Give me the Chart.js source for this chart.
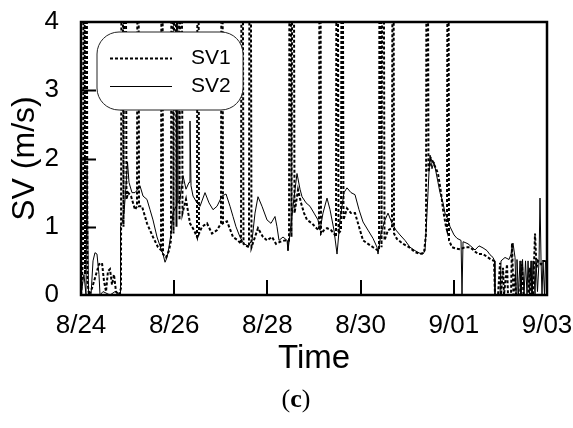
<!DOCTYPE html>
<html>
<head>
<meta charset="utf-8">
<script src="https://cdn.jsdelivr.net/npm/chart.js@4.4.1/dist/chart.umd.min.js"></script>
<style>
  html, body { margin: 0; padding: 0; background: #ffffff; }
  #wrap { width: 573px; height: 428px; }
</style>
</head>
<body>
<div id="wrap"><canvas id="c" width="573" height="428"></canvas></div>
<script>
// ---- data (time in days since 8/24 00:00, speed in m/s; values > 4 are off-scale spikes) ----
const tickLabels = ['8/24', '8/26', '8/28', '8/30', '9/01', '9/03'];
const tickDays = [0, 2, 4, 6, 8, 10];

const sv1Time = [0,0.043,0.064,0.086,0.107,0.139,0.172,0.236,0.322,0.386,0.451,0.494,0.537,0.579,0.622,0.665,0.708,0.751,0.815,0.858,
  0.880,0.912,0.944,0.976,1.009,1.073,1.159,1.202,1.223,1.245,1.309,1.416,1.545,1.652,1.717,1.738,1.760,1.824,1.888,1.931,
  1.953,1.985,2.017,2.049,2.082,2.114,2.146,2.178,2.253,2.339,2.425,2.489,2.511,2.532,2.597,2.704,2.811,2.919,3.004,3.026,
  3.047,3.133,3.262,3.369,3.434,3.455,3.487,3.541,3.605,3.627,3.659,3.734,3.798,3.906,3.992,4.099,4.185,4.271,4.378,4.464,
  4.485,4.517,4.550,4.582,4.657,4.721,4.786,4.850,4.957,5.065,5.107,5.129,5.150,5.215,5.279,5.365,5.429,5.472,5.494,5.526,
  5.580,5.601,5.633,5.708,5.794,5.880,5.966,6.052,6.159,6.266,6.374,6.395,6.417,6.449,6.481,6.513,6.588,6.674,6.696,6.717,
  6.781,6.910,7.039,7.168,7.275,7.361,7.404,7.425,7.457,7.511,7.554,7.618,7.661,7.726,7.769,7.833,7.854,7.876,7.897,7.962,
  8.048,8.133,8.241,8.348,8.434,8.520,8.627,8.713,8.799,8.863,8.884,8.949,8.992,9.013,9.056,9.078,9.142,9.163,9.228,9.249,
  9.281,9.314,9.335,9.421,9.464,9.496,9.593,9.636,9.657,9.700,9.743,9.775,9.807,9.872,9.915,9.957,10.0];
const sv1Value = [0,0.5,10,0.3,10,0.2,0,0.1,0.3,0.45,0.47,0.2,0.05,0.35,0.38,0.15,0.3,0.05,0,0.1,
  10,1.0,10,1.4,1.5,1.45,1.25,1.3,10,1.3,1.3,1.05,0.85,0.7,0.66,10,0.6,0.55,0.65,0.8,
  10,0.9,10,1.0,10,1.1,10,1.2,1.4,1.05,0.95,0.85,10,0.9,1.0,1.05,0.9,0.95,1.05,10,
  1.05,1.08,0.85,0.8,0.75,10,0.75,0.72,0.7,10,0.7,0.85,0.98,0.85,0.8,0.85,0.75,0.78,0.8,0.8,
  10,0.85,10,1.2,1.54,1.35,1.2,1.1,1.05,0.97,0.95,10,0.9,0.95,0.98,0.95,0.9,0.85,10,0.9,
  0.95,10,1.1,1.27,1.2,1.2,1.0,0.8,0.75,0.7,0.65,0.66,10,0.7,10,0.8,0.95,0.98,10,0.9,
  0.82,0.75,0.7,0.63,0.6,0.62,0.9,10,1.8,2.0,1.95,1.85,1.78,1.5,1.25,1.0,0.95,10,0.8,0.7,
  0.68,0.67,0.7,0.7,0.65,0.6,0.6,0.56,0.52,0.5,0,0,0.47,0,0.4,0,0.45,0,0,0.76,
  0,0.3,0,0,0.45,0,0,0.4,0,0,0.9,0.4,0.5,0.45,0.5,0.5,0.5];

const sv2Time = [0,0.064,0.107,0.129,0.161,0.215,0.258,0.300,0.343,0.386,0.408,0.472,0.622,0.730,0.837,0.848,0.880,0.923,0.966,0.998,
  1.030,1.094,1.159,1.223,1.266,1.331,1.416,1.481,1.545,1.631,1.695,1.760,1.803,1.846,1.888,1.931,1.974,2.039,2.060,2.082,
  2.125,2.189,2.253,2.318,2.339,2.361,2.404,2.489,2.554,2.661,2.747,2.833,2.919,3.026,3.112,3.198,3.262,3.326,3.412,3.498,
  3.584,3.670,3.734,3.798,3.884,3.992,4.077,4.163,4.206,4.249,4.335,4.421,4.442,4.485,4.550,4.635,4.700,4.743,4.829,4.914,
  5.000,5.086,5.129,5.193,5.279,5.344,5.429,5.494,5.558,5.644,5.708,5.794,5.880,5.966,6.052,6.159,6.266,6.352,6.374,6.438,
  6.524,6.588,6.674,6.760,6.846,6.953,7.060,7.168,7.275,7.339,7.382,7.425,7.468,7.490,7.532,7.575,7.618,7.661,7.704,7.769,
  7.811,7.876,7.919,8.005,8.069,8.155,8.176,8.198,8.241,8.305,8.391,8.455,8.541,8.627,8.713,8.777,8.842,8.874,8.884,8.992,
  9.013,9.099,9.185,9.228,9.270,9.314,9.335,9.356,9.388,9.421,9.442,9.475,9.507,9.539,9.571,9.593,9.625,9.657,9.678,9.711,
  9.743,9.764,9.796,9.829,9.850,9.872,9.893,9.915,9.947,9.968,10.0];
const sv2Value = [0,0.3,0,1.9,0,0,0.5,0.62,0.6,0.3,0,0.05,0,0.05,0,1.0,1.05,1.2,1.6,1.95,
  1.65,1.5,1.5,1.55,1.6,1.45,1.4,1.25,1.1,0.85,0.72,0.6,0.48,0.55,0.7,0.9,1.2,1.3,10,1.35,
  1.4,1.75,1.55,1.65,2.55,1.6,1.45,1.35,1.3,1.5,1.35,1.25,1.3,1.45,1.48,1.3,1.15,1.0,0.85,0.75,
  0.72,0.8,1.2,1.44,1.3,1.1,1.05,1.15,1.0,0.8,0.85,0.8,0.65,0.9,1.3,1.78,1.55,1.44,1.35,1.3,
  1.2,1.1,0.95,1.2,1.42,1.25,0.95,0.6,1.1,1.5,1.57,1.5,1.47,1.25,1.07,0.95,0.83,0.7,0.6,0.9,
  1.1,1.2,1.05,0.95,0.88,0.8,0.7,0.65,0.61,0.6,0.65,1.2,1.8,2.05,1.85,1.95,1.8,1.65,1.5,1.35,
  1.2,1.1,1.0,0.88,0.83,0.8,0,0.78,0.77,0.75,0.7,0.66,0.72,0.69,0.65,0.59,0.55,0.5,0,0,
  0.5,0.55,0.52,0.6,0.76,0.55,0,0.52,0,0.5,0,0.52,0,0.5,0,0.5,0,0.5,0,0.5,
  0,0.5,0.05,0.5,1.42,0.5,0,0.5,0,0.5,0.5];

const seriesNames = ['SV1', 'SV2'];

// ---- geometry / style ----
const FONT = "'Liberation Sans', Arial, Helvetica, sans-serif";
const PLOT = { left: 81, top: 22, right: 547, bottom: 295 };
const X_AXIS_H = 85;

const toPoints = (t, v) => t.map((x, i) => ({ x: x, y: v[i] }));

const framePlugin = {
  id: 'framePlugin',
  afterDatasetsDraw(chart) {
    const { ctx, chartArea: a, scales } = chart;
    ctx.save();
    ctx.strokeStyle = '#000';
    // inward ticks
    ctx.lineWidth = 2;
    ctx.beginPath();
    scales.y.ticks.forEach(t => {
      if (t.value <= scales.y.min || t.value >= scales.y.max) return;
      const py = Math.round(scales.y.getPixelForValue(t.value)) + 0.5;
      ctx.moveTo(a.left, py); ctx.lineTo(a.left + 15, py);
    });
    scales.x.ticks.forEach(t => {
      if (t.value <= scales.x.min || t.value >= scales.x.max) return;
      const px = Math.round(scales.x.getPixelForValue(t.value));
      ctx.moveTo(px, a.bottom); ctx.lineTo(px, a.bottom - 15);
    });
    ctx.stroke();
    // frame
    ctx.lineWidth = 2.5;
    ctx.strokeRect(a.left, a.top, a.right - a.left, a.bottom - a.top);

    // legend box (rounded, white fill)
    const lx = 97, ly = 32, lw = 146, lh = 78, r = 22;
    ctx.beginPath();
    ctx.moveTo(lx + r, ly);
    ctx.lineTo(lx + lw - r, ly);
    ctx.arcTo(lx + lw, ly, lx + lw, ly + r, r);
    ctx.lineTo(lx + lw, ly + lh - r);
    ctx.arcTo(lx + lw, ly + lh, lx + lw - r, ly + lh, r);
    ctx.lineTo(lx + r, ly + lh);
    ctx.arcTo(lx, ly + lh, lx, ly + lh - r, r);
    ctx.lineTo(lx, ly + r);
    ctx.arcTo(lx, ly, lx + r, ly, r);
    ctx.closePath();
    ctx.fillStyle = '#fff';
    ctx.fill();
    ctx.lineWidth = 1;
    ctx.strokeStyle = '#222';
    ctx.stroke();

    const ds = chart.data.datasets;
    const rows = [58, 86];
    ds.forEach((d, i) => {
      ctx.beginPath();
      ctx.strokeStyle = d.borderColor;
      ctx.lineWidth = d.borderWidth;
      ctx.setLineDash(d.borderDash || []);
      ctx.moveTo(110, rows[i] + 0.5);
      ctx.lineTo(172, rows[i] + 0.5);
      ctx.stroke();
      ctx.setLineDash([]);
      ctx.fillStyle = '#000';
      ctx.font = '21px ' + FONT;
      ctx.textBaseline = 'middle';
      ctx.textAlign = 'left';
      ctx.fillText(d.label, 191, rows[i]);
    });
    ctx.restore();
  },
  afterDraw(chart) {
    const ctx = chart.ctx;
    ctx.save();
    ctx.fillStyle = '#000';
    ctx.textBaseline = 'middle';
    ctx.textAlign = 'left';
    const serif = "'Liberation Serif', 'DejaVu Serif', serif";
    const parts = [['(', 'normal'], ['c', 'bold'], [')', 'normal']];
    let total = 0;
    parts.forEach(p => { ctx.font = p[1] + ' 26px ' + serif; total += ctx.measureText(p[0]).width; });
    let x = 296 - total / 2;
    parts.forEach(p => {
      ctx.font = p[1] + ' 26px ' + serif;
      ctx.fillText(p[0], x, 400);
      x += ctx.measureText(p[0]).width;
    });
    ctx.restore();
  }
};

new Chart(document.getElementById('c'), {
  type: 'line',
  data: {
    datasets: [
      {
        label: seriesNames[0],
        data: toPoints(sv1Time, sv1Value),
        borderColor: '#000',
        borderWidth: 2,
        borderDash: [3, 2],
        pointRadius: 0,
        tension: 0,
        fill: false
      },
      {
        label: seriesNames[1],
        data: toPoints(sv2Time, sv2Value),
        borderColor: '#000',
        borderWidth: 1,
        pointRadius: 0,
        tension: 0,
        fill: false
      }
    ]
  },
  options: {
    responsive: false,
    animation: false,
    devicePixelRatio: 1,
    layout: { padding: { left: 0, top: PLOT.top, right: 573 - PLOT.right, bottom: 428 - PLOT.bottom - X_AXIS_H } },
    plugins: { legend: { display: false }, title: { display: false }, tooltip: { enabled: false } },
    scales: {
      x: {
        type: 'linear',
        min: 0, max: 10,
        afterBuildTicks: (s) => { s.ticks = tickDays.map(v => ({ value: v })); },
        afterFit: (s) => { s.height = X_AXIS_H; s.paddingLeft = 0; s.paddingRight = 0; },
        grid: { display: false },
        border: { display: false },
        ticks: {
          color: '#000',
          font: { size: 26, family: FONT },
          padding: 7,
          maxRotation: 0,
          autoSkip: false,
          callback: (v) => tickLabels[tickDays.indexOf(v)]
        },
        title: {
          display: true, text: 'Time', color: '#000',
          font: { size: 33, family: FONT },
          padding: { top: 0, bottom: 1 }
        }
      },
      y: {
        min: 0, max: 4,
        afterFit: (s) => { s.width = PLOT.left; s.paddingTop = 0; s.paddingBottom = 0; },
        grid: { display: false },
        border: { display: false },
        ticks: {
          stepSize: 1,
          color: '#000',
          font: { size: 26, family: FONT },
          padding: 14
        },
        title: {
          display: true, text: 'SV (m/s)', color: '#000',
          font: { size: 32, family: FONT },
          padding: { top: 6, bottom: 0 }
        }
      }
    }
  },
  plugins: [framePlugin]
});
</script>
</body>
</html>
